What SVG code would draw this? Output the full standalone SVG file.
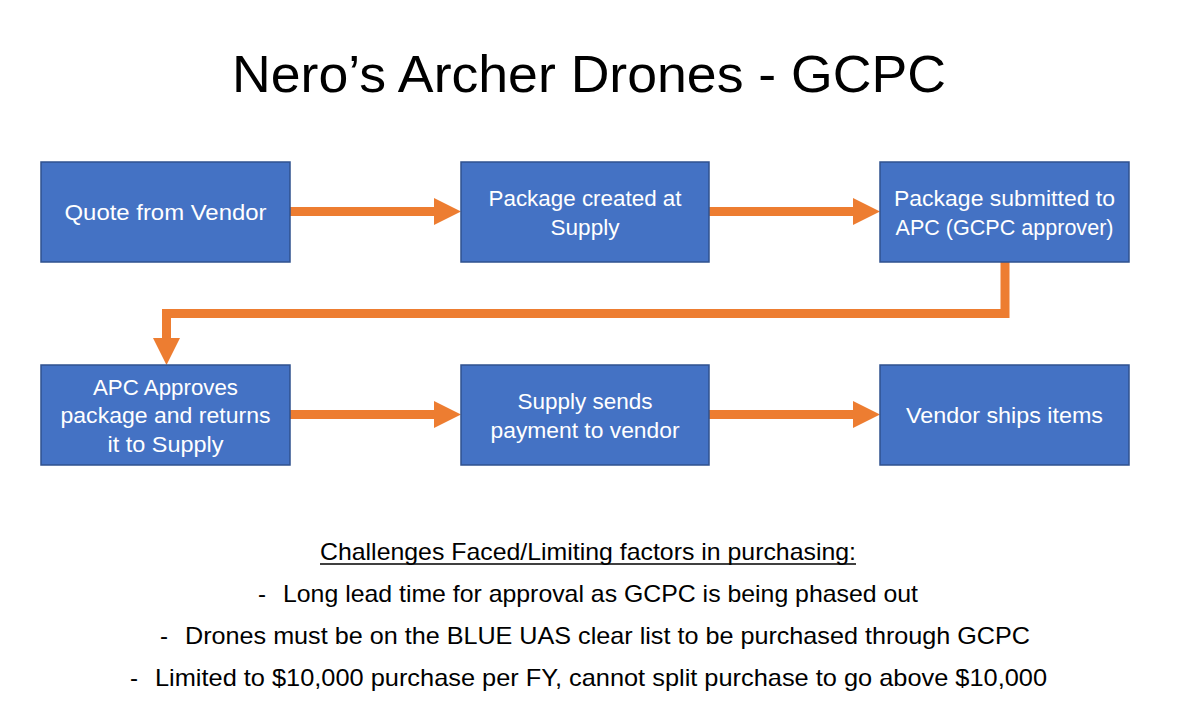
<svg xmlns="http://www.w3.org/2000/svg" width="1186" height="703" viewBox="0 0 1186 703">
<defs>
<style>
.box{fill:#4472C4;stroke:#2F528F;stroke-width:1.5}
.bt{font-family:"Liberation Sans",Arial,sans-serif;font-size:22px;fill:#FFFFFF;text-anchor:middle}
.conn{fill:none;stroke:#ED7D31;stroke-width:9;stroke-linejoin:miter}
.txt{font-family:"Liberation Sans",Arial,sans-serif;font-size:24px;fill:#000000}
.title{font-family:"Liberation Sans",Arial,sans-serif;font-size:52px;fill:#000000}
</style>
<marker id="ah" markerUnits="userSpaceOnUse" markerWidth="27" markerHeight="27" refX="6" refY="13.5" orient="auto">
<path d="M0,0 L27,13.5 L0,27 Z" fill="#ED7D31"/>
</marker>
</defs>
<rect width="1186" height="703" fill="#FFFFFF"/>
<text class="title" x="232" y="92" textLength="714" lengthAdjust="spacingAndGlyphs">Nero’s Archer Drones - GCPC</text>

<g id="connectors">
<line class="conn" x1="290" y1="211.5" x2="440" y2="211.5" marker-end="url(#ah)"/>
<line class="conn" x1="709" y1="211.5" x2="859" y2="211.5" marker-end="url(#ah)"/>
<path class="conn" d="M1005,262 L1005,313.5 L166.5,313.5 L166.5,344" marker-end="url(#ah)"/>
<line class="conn" x1="290" y1="414.5" x2="440" y2="414.5" marker-end="url(#ah)"/>
<line class="conn" x1="709" y1="414.5" x2="859" y2="414.5" marker-end="url(#ah)"/>
</g>

<g id="n1">
<rect class="box" x="41" y="162" width="249" height="100"/>
<text class="bt" x="165.5" y="220" textLength="202" lengthAdjust="spacingAndGlyphs">Quote from Vendor</text>
</g>
<g id="n2">
<rect class="box" x="461" y="162" width="248" height="100"/>
<text class="bt" x="585" y="205.5" textLength="193" lengthAdjust="spacingAndGlyphs">Package created at</text>
<text class="bt" x="585" y="234.5" textLength="69" lengthAdjust="spacingAndGlyphs">Supply</text>
</g>
<g id="n3">
<rect class="box" x="880" y="162" width="249" height="100"/>
<text class="bt" x="1004.5" y="205.5" textLength="221" lengthAdjust="spacingAndGlyphs">Package submitted to</text>
<text class="bt" x="1004.5" y="234.5" textLength="218" lengthAdjust="spacingAndGlyphs">APC (GCPC approver)</text>
</g>
<g id="n4">
<rect class="box" x="41" y="365" width="249" height="100"/>
<text class="bt" x="165.5" y="394.5" textLength="145" lengthAdjust="spacingAndGlyphs">APC Approves</text>
<text class="bt" x="165.5" y="423" textLength="210" lengthAdjust="spacingAndGlyphs">package and returns</text>
<text class="bt" x="165.5" y="452" textLength="116" lengthAdjust="spacingAndGlyphs">it to Supply</text>
</g>
<g id="n5">
<rect class="box" x="461" y="365" width="248" height="100"/>
<text class="bt" x="585" y="408.5" textLength="135" lengthAdjust="spacingAndGlyphs">Supply sends</text>
<text class="bt" x="585" y="437.5" textLength="189" lengthAdjust="spacingAndGlyphs">payment to vendor</text>
</g>
<g id="n6">
<rect class="box" x="880" y="365" width="249" height="100"/>
<text class="bt" x="1004.5" y="423" textLength="197" lengthAdjust="spacingAndGlyphs">Vendor ships items</text>
</g>

<g id="notes">
<text class="txt" x="320" y="560" textLength="536" lengthAdjust="spacingAndGlyphs">Challenges Faced/Limiting factors in purchasing:</text>
<line x1="320" y1="564" x2="856" y2="564" stroke="#000000" stroke-width="1.5"/>
<text class="txt" x="258" y="602">-</text>
<text class="txt" x="283" y="602" textLength="635" lengthAdjust="spacingAndGlyphs">Long lead time for approval as GCPC is being phased out</text>
<text class="txt" x="160" y="644">-</text>
<text class="txt" x="185" y="644" textLength="845" lengthAdjust="spacingAndGlyphs">Drones must be on the BLUE UAS clear list to be purchased through GCPC</text>
<text class="txt" x="130" y="686">-</text>
<text class="txt" x="155" y="686" textLength="892" lengthAdjust="spacingAndGlyphs">Limited to $10,000 purchase per FY, cannot split purchase to go above $10,000</text>
</g>
</svg>
